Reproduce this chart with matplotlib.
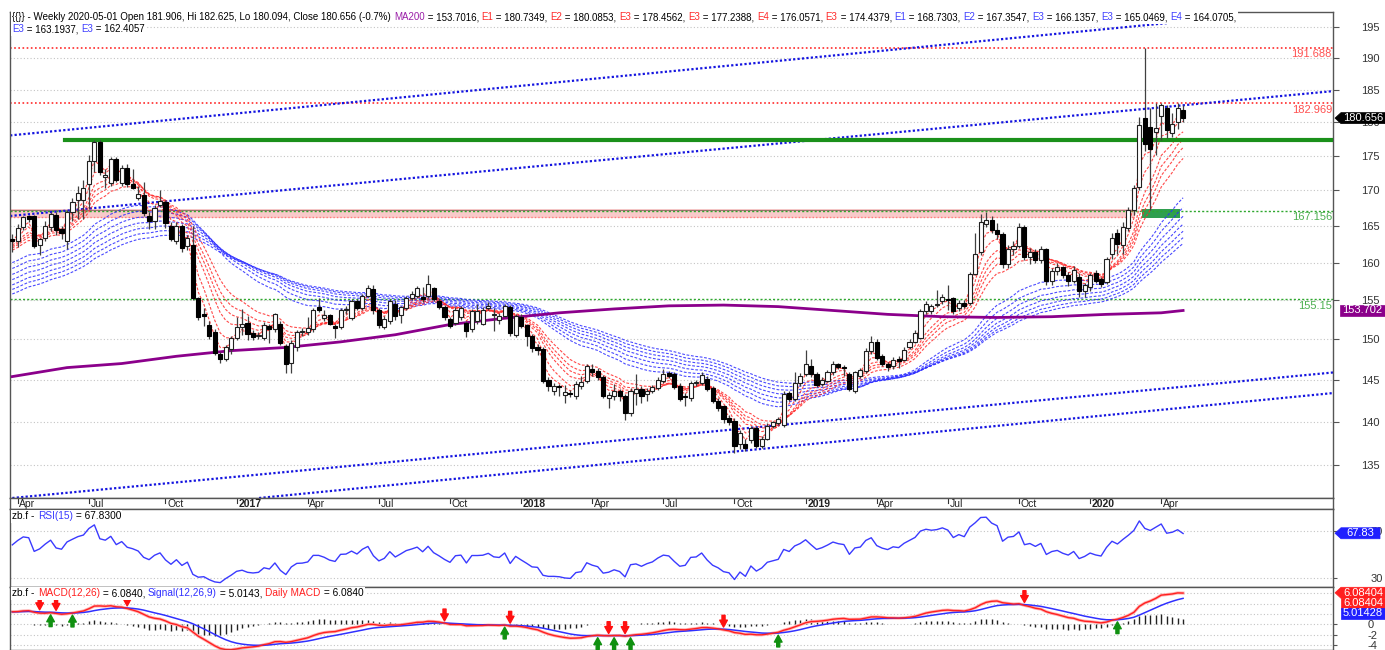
### weekly zb.f chart with guppy ribbons, RSI and MACD panels

import numpy as np
import pandas as pd
import matplotlib
matplotlib.use('Agg')
import matplotlib.pyplot as plt
from matplotlib.ticker import FixedLocator, NullLocator, FuncFormatter
from matplotlib.patches import Polygon
from matplotlib.offsetbox import HPacker, TextArea, AnchoredOffsetbox

plt.rcParams['font.family'] = ['Liberation Sans', 'DejaVu Sans']

### canvas size in pixels
W, H = 1385, 650

### weekly bars (friday), first bar 2016-03-25, last bar 2020-05-01
first_week = '2016-03-25'
opens = [163.2, 162.9, 164.8, 166.4, 166.4, 162.4, 163.3, 164.8, 166.6, 164.6,
         163.0, 167.0, 168.6, 168.6, 171.0, 174.3, 177.0, 172.0, 171.1, 174.6,
         171.1, 173.2, 171.0, 168.9, 169.4, 166.4, 165.7, 167.9, 168.4, 165.0,
         162.9, 165.0, 162.3, 162.4, 155.3, 153.3, 151.9, 150.9, 148.2, 147.6,
         148.8, 150.2, 151.6, 152.1, 150.8, 150.4, 150.2, 151.7, 151.3, 152.0,
         149.2, 147.1, 149.0, 150.9, 150.9, 151.3, 154.1, 152.7, 153.1, 151.7,
         151.6, 153.8, 152.7, 154.9, 154.0, 155.6, 156.5, 153.8, 151.6, 152.4,
         154.6, 153.1, 154.0, 155.3, 155.6, 155.4, 155.6, 156.6, 154.9, 154.1,
         152.6, 152.1, 152.8, 152.1, 151.3, 152.3, 152.0, 154.0, 153.1, 152.5,
         153.0, 154.1, 150.6, 152.9, 151.8, 150.4, 149.1, 148.8, 145.0, 143.7,
         144.3, 143.2, 143.4, 143.0, 144.3, 144.9, 146.3, 146.1, 145.3, 142.8,
         143.1, 143.6, 143.0, 141.0, 143.4, 143.9, 143.3, 143.7, 144.0, 144.9,
         145.8, 145.7, 144.3, 143.1, 142.8, 144.6, 144.6, 145.1, 144.0, 142.5,
         141.8, 140.4, 140.1, 137.4, 137.4, 137.8, 139.3, 137.2, 138.0, 139.5,
         139.8, 139.6, 143.4, 142.7, 144.6, 145.7, 146.7, 145.7, 144.5, 144.9,
         145.9, 146.9, 146.6, 145.7, 143.7, 145.5, 146.1, 148.6, 149.7, 147.9,
         147.0, 146.7, 147.6, 147.5, 149.0, 149.7, 150.2, 153.6, 153.6, 154.4,
         154.9, 155.2, 155.3, 154.0, 154.7, 154.7, 158.5, 161.4, 165.3, 165.8,
         164.5, 163.9, 159.8, 161.9, 162.3, 164.9, 160.8, 161.4, 160.4, 161.8,
         157.6, 158.9, 159.4, 158.3, 157.6, 158.1, 156.2, 156.7, 158.6, 157.8,
         157.4, 161.2, 164.0, 162.4, 164.7, 167.3, 170.5, 180.6, 179.3, 178.6,
         181.0, 182.2, 178.4, 180.0, 181.906]
highs = [163.9, 165.3, 166.4, 166.6, 166.6, 163.4, 165.7, 166.9, 166.9, 165.0,
         167.2, 168.9, 170.7, 171.5, 175.1, 177.3, 177.4, 173.1, 174.8, 174.8,
         173.7, 173.8, 173.1, 170.7, 171.2, 167.0, 167.9, 170.0, 168.6, 165.5,
         165.6, 165.3, 163.8, 165.0, 155.5, 154.0, 152.3, 151.3, 148.4, 149.3,
         150.5, 152.8, 153.9, 153.0, 151.2, 151.0, 152.2, 152.0, 153.4, 152.3,
         149.4, 149.9, 151.2, 151.5, 152.8, 154.0, 155.3, 153.8, 153.3, 152.0,
         154.0, 154.3, 155.2, 155.2, 155.9, 157.0, 157.0, 154.0, 153.0, 155.2,
         155.0, 154.3, 155.6, 156.2, 156.9, 156.7, 158.3, 156.8, 155.3, 154.4,
         152.9, 154.1, 154.3, 152.4, 153.9, 154.6, 154.2, 154.8, 154.0, 153.4,
         154.6, 154.4, 153.3, 153.2, 152.0, 150.7, 149.4, 149.0, 145.3, 144.6,
         144.5, 144.4, 143.8, 144.8, 145.5, 147.0, 146.9, 146.4, 145.6, 143.5,
         144.5, 143.9, 143.3, 144.0, 145.7, 144.2, 144.0, 144.4, 145.3, 146.3,
         146.1, 146.0, 144.6, 143.4, 144.9, 145.0, 146.0, 145.5, 144.2, 142.8,
         142.0, 140.8, 140.4, 139.0, 138.0, 139.5, 139.5, 138.3, 139.8, 140.1,
         140.6, 143.6, 143.7, 145.9, 145.8, 148.7, 147.6, 146.0, 145.3, 146.2,
         147.3, 147.1, 146.8, 146.0, 146.1, 146.5, 148.9, 150.5, 150.0, 148.2,
         147.2, 147.8, 147.9, 149.0, 150.0, 151.2, 153.9, 154.9, 154.6, 156.4,
         155.8, 157.0, 155.5, 155.0, 155.0, 158.8, 164.0, 166.7, 166.9, 166.4,
         165.4, 164.2, 162.4, 163.0, 165.4, 165.2, 162.0, 161.9, 162.3, 162.0,
         159.3, 160.0, 159.6, 158.8, 159.5, 158.6, 157.3, 158.6, 159.0, 158.1,
         160.8, 164.0, 164.6, 165.5, 167.6, 170.8, 180.8, 191.688, 182.2, 182.9,
         182.9, 182.6, 181.5, 182.969, 182.625]
lows = [161.5, 162.1, 164.4, 165.5, 162.0, 161.1, 163.0, 164.3, 163.8, 163.2,
        161.9, 165.7, 166.0, 166.0, 167.4, 172.6, 172.2, 170.3, 170.6, 171.2,
        170.6, 170.5, 170.2, 168.6, 166.4, 164.6, 164.6, 167.6, 164.7, 163.0,
        162.5, 161.5, 161.7, 155.0, 152.5, 151.7, 150.0, 148.0, 147.1, 147.3,
        148.2, 149.9, 150.6, 149.9, 149.9, 150.0, 149.9, 149.6, 151.0, 149.3,
        145.8, 145.8, 148.6, 150.5, 150.6, 151.0, 153.5, 152.3, 151.8, 150.2,
        151.3, 153.3, 152.5, 153.8, 153.8, 155.4, 153.3, 151.5, 151.3, 152.0,
        152.5, 152.1, 153.8, 155.0, 155.3, 154.8, 155.3, 154.9, 153.9, 152.5,
        151.4, 151.9, 152.5, 150.3, 151.0, 152.0, 151.8, 153.7, 151.1, 152.0,
        152.8, 150.5, 150.3, 151.4, 149.2, 148.4, 148.1, 144.6, 143.6, 143.2,
        143.1, 142.2, 142.9, 142.7, 143.9, 144.6, 145.5, 145.0, 142.8, 141.6,
        142.6, 142.4, 140.2, 140.7, 142.0, 142.2, 142.4, 143.4, 143.8, 144.6,
        145.2, 143.9, 142.5, 141.9, 142.4, 144.3, 144.4, 143.7, 142.2, 141.3,
        139.8, 139.6, 136.4, 136.8, 136.6, 137.5, 136.9, 136.9, 137.8, 139.3,
        139.6, 139.4, 142.5, 142.4, 144.3, 145.5, 145.4, 144.1, 144.2, 144.7,
        145.6, 146.3, 145.5, 143.7, 143.4, 145.2, 145.8, 148.2, 147.4, 146.7,
        146.1, 146.3, 146.4, 147.3, 148.8, 149.5, 150.0, 153.3, 153.3, 154.2,
        154.6, 153.8, 153.2, 153.6, 154.0, 154.4, 158.3, 161.0, 164.8, 164.0,
        163.2, 159.3, 159.3, 161.0, 162.0, 160.3, 159.8, 159.9, 160.0, 157.0,
        157.0, 158.3, 157.9, 156.9, 157.3, 155.5, 155.5, 156.2, 157.3, 156.7,
        157.1, 160.5, 161.2, 161.2, 164.3, 166.5, 170.0, 175.8, 167.2, 175.1,
        177.3, 177.6, 177.8, 179.0, 180.094]
closes = [163.0, 164.7, 166.2, 166.0, 162.3, 163.2, 165.0, 166.7, 164.4, 164.0,
          167.0, 168.3, 169.6, 170.4, 174.3, 177.0, 172.7, 172.2, 174.5, 171.5,
          173.2, 171.0, 170.4, 169.5, 166.8, 165.7, 167.5, 168.5, 165.4, 163.2,
          165.0, 162.0, 163.3, 155.3, 152.8, 153.0, 150.4, 148.3, 147.6, 149.0,
          150.2, 151.6, 152.0, 150.7, 150.3, 150.5, 151.9, 151.3, 153.2, 149.5,
          147.0, 149.6, 150.9, 151.0, 151.4, 153.8, 153.8, 153.1, 152.0, 151.5,
          153.8, 153.9, 154.9, 154.0, 155.6, 156.6, 153.7, 151.8, 152.6, 154.9,
          153.0, 154.1, 155.3, 155.9, 156.6, 155.2, 157.2, 155.2, 154.1, 152.8,
          151.7, 153.8, 154.0, 151.1, 153.6, 153.6, 153.7, 154.3, 153.2, 153.0,
          154.3, 150.8, 153.0, 151.7, 150.4, 148.9, 148.7, 144.9, 144.3, 144.3,
          144.1, 143.5, 143.3, 144.5, 144.7, 146.7, 145.9, 145.4, 143.0, 143.2,
          143.7, 143.1, 141.0, 143.7, 143.9, 143.1, 143.7, 144.1, 145.0, 145.7,
          145.5, 144.1, 142.7, 142.9, 144.6, 144.7, 145.6, 143.9, 142.4, 141.6,
          140.3, 139.9, 137.2, 138.7, 136.9, 139.3, 137.2, 138.0, 139.5, 139.9,
          140.3, 143.3, 142.7, 144.6, 145.5, 147.0, 145.7, 144.4, 145.0, 145.9,
          147.0, 146.6, 146.4, 143.9, 145.9, 146.2, 148.6, 149.7, 147.7, 147.0,
          146.6, 147.5, 147.3, 148.7, 149.7, 150.8, 153.6, 154.5, 154.3, 154.6,
          155.4, 155.0, 153.6, 154.7, 154.3, 158.5, 161.2, 165.5, 165.8, 164.5,
          163.9, 159.8, 161.9, 162.3, 164.9, 160.8, 161.4, 160.4, 161.8, 157.6,
          158.9, 159.4, 158.3, 157.6, 159.0, 156.2, 157.0, 158.3, 157.6, 157.2,
          160.5, 163.4, 162.5, 164.8, 167.2, 170.4, 179.6, 176.8, 176.0, 179.1,
          182.7, 178.9, 179.8, 182.2, 180.656]

### 200 week moving average (bar index, value)
ma200_idx = [0, 10, 20, 30, 40, 50, 60, 70, 80, 90, 100, 110, 120, 130, 140,
             150, 160, 170, 180, 190, 200, 210, 214]
ma200_val = [145.4, 146.5, 147.0, 147.9, 148.6, 149.0, 149.7, 150.6, 151.9,
             152.7, 153.4, 153.9, 154.3, 154.4, 154.2, 153.7, 153.2, 152.9,
             152.8, 152.9, 153.2, 153.4, 153.70]

### guppy ribbons: periods and values at the first bar
red_periods = [3, 5, 8, 10, 12, 15]
red_start = [162.8, 162.5, 162.2, 162.0, 161.8, 161.5]
blue_periods = [30, 35, 40, 45, 50, 55, 60]
blue_start = [159.8, 159.0, 158.2, 157.5, 156.8, 156.2, 155.6]

### horizontal levels
res_levels = [191.688, 182.969]
sup_levels = [167.156, 155.15]
green_level = 177.4
band_low, band_high = 166.15, 167.35

### trendlines as (bar, price) end points
trend_lines = [((-0.4, 178.05), (212.6, 195.8)),
               ((-0.4, 166.4), (241.4, 184.8)),
               ((0.0, 131.3), (241.4, 145.9)),
               ((45.1, 131.3), (241.4, 143.4))]

### MACD cross arrows (bar index)
sell_arrows = [5, 8, 21, 79, 91, 109, 112, 130, 185]
buy_arrows = [7, 11, 90, 107, 110, 113, 140, 202]

### header texts
ohlc_text = "{{}} - Weekly 2020-05-01 Open 181.906, Hi 182.625, Lo 180.094, Close 180.656 (-0.7%) "
red_names = ['E1', 'E2', 'E3', 'E3', 'E4', 'E3']
red_vals = ['180.7349', '180.0853', '178.4562', '177.2388', '176.0571', '174.4379']
blue_names = ['E1', 'E2', 'E3', 'E3', 'E4', 'E3', 'E3']
blue_vals = ['168.7303', '167.3547', '166.1357', '165.0469', '164.0705', '163.1937', '162.4057']

RED = '#ff2a2a'
BLUE = '#2b2bff'
PURPLE = '#8b008b'
GREEN = '#2fa82f'


def ema(values, n, seed):
    a = 2.0 / (n + 1)
    out = np.empty(len(values))
    e = seed
    for t, v in enumerate(values):
        e = e + a * (v - e)
        out[t] = e
    return out


def rsi_wilder(values, n, g0, l0):
    out = np.empty(len(values))
    ag, al = g0, l0
    out[0] = 100 - 100 / (1 + ag / al)
    for t in range(1, len(values)):
        d = values[t] - values[t - 1]
        ag = (ag * (n - 1) + max(d, 0)) / n
        al = (al * (n - 1) + max(-d, 0)) / n
        out[t] = 100 - 100 / (1 + ag / al)
    return out


o = np.array(opens)
h = np.array(highs)
l = np.array(lows)
c = np.array(closes)
x = np.arange(len(c))
dates = pd.date_range(first_week, periods=len(c), freq='W-FRI')
xlim = (-0.42, 241.4)

fig = plt.figure(figsize=(W / 100, H / 100), dpi=100)


def panel(top, bottom):
    return fig.add_axes([10 / W, 1 - bottom / H, (1333 - 10) / W, (bottom - top) / H])


ax = panel(12, 498)
ax_d = panel(498, 509)
ax_r = panel(509, 587)
ax_m = panel(587, 650)

for a in (ax, ax_d, ax_r, ax_m):
    a.set_xlim(*xlim)
    a.set_xticks([])
    for s in a.spines.values():
        s.set_color('#555555')
        s.set_linewidth(1)

### ---------- main price panel ----------
ax.set_yscale('log')
ax.set_ylim(131.3, 197.5)
ax.yaxis.set_major_locator(FixedLocator(list(range(135, 200, 5))))
ax.yaxis.set_minor_locator(NullLocator())
ax.yaxis.set_major_formatter(FuncFormatter(lambda v, p: '%d' % v))
ax.yaxis.set_minor_formatter(FuncFormatter(lambda v, p: ''))
ax.yaxis.tick_right()
ax.tick_params(axis='y', which='both', length=4, pad=16, labelsize=8, labelcolor='#333333', color='#555555')
ax.grid(axis='y', color='#c4c4c4', ls=(0, (1, 2)), lw=0.8)

### pink band and green block
ax.fill_between([xlim[0], 205.3], band_low, band_high, color='#f9caca', lw=0, zorder=1)
ax.plot([xlim[0], 205.3], [band_low + 0.08] * 2, color='#ff7a7a', ls=(0, (1, 1.5)), lw=1, zorder=1.5)
ax.plot([xlim[0], 205.3], [band_high - 0.05] * 2, color='#a07070', lw=0.8, zorder=1.5)
ax.fill_between([206.5, 213.5], band_low, band_high, color='#2f9f4f', lw=0, zorder=1)

### levels
for lv in res_levels:
    ax.plot(xlim, [lv, lv], color=RED, ls=(0, (1, 1.5)), lw=1.2, zorder=2)
    ax.text(xlim[1] - 0.2, lv * 0.9985, '%g' % lv, color='#ff5050', size=8, ha='right', va='top', zorder=6)
for lv in sup_levels:
    ax.plot(xlim, [lv, lv], color=GREEN, ls=(0, (1.5, 1.5)), lw=1, zorder=2)
    ax.text(xlim[1] - 0.2, lv * 0.9985, '%g' % lv, color='#4caf50', size=8, ha='right', va='top', zorder=6)
ax.plot([9.7, xlim[1]], [green_level, green_level], color='#1a901a', lw=3, zorder=3)

### trendlines
for p0, p1 in trend_lines:
    ax.plot([p0[0], p1[0]], [p0[1], p1[1]], color='#1414e0', ls=(0, (1, 1)), lw=1.6, zorder=2)

### guppy ribbons
for n, s0 in zip(blue_periods, blue_start):
    ax.plot(x, ema(c, n, s0), color=BLUE, ls=(0, (2.5, 1.5)), lw=0.8, alpha=0.85, zorder=2)
for n, s0 in zip(red_periods, red_start):
    ax.plot(x, ema(c, n, s0), color=RED, ls=(0, (2.5, 1.5)), lw=0.8, alpha=0.85, zorder=2.2)

### MA200
ax.plot(ma200_idx, ma200_val, color=PURPLE, lw=2, zorder=3)

### candles
up = c >= o
body = np.maximum(np.abs(c - o), 0.12)
ax.vlines(x, l, h, color='#404040', lw=0.9, zorder=3.5)
ax.bar(x[up], body[up], bottom=np.minimum(o, c)[up], width=0.75, color='white',
       edgecolor='#202020', lw=0.8, zorder=4)
ax.bar(x[~up], body[~up], bottom=np.minimum(o, c)[~up], width=0.75, color='black',
       edgecolor='black', lw=0.8, zorder=4)


### header
def put_row(target, parts, x_px, y_px, size=7.0):
    areas = [TextArea(s, textprops=dict(color=col, size=size)) for s, col in parts]
    row = HPacker(children=areas, align='baseline', pad=0, sep=0)
    box = AnchoredOffsetbox(loc='upper left', child=row, pad=0.1, borderpad=0, frameon=True,
                            bbox_to_anchor=(x_px / W, 1 - y_px / H), bbox_transform=fig.transFigure)
    box.patch.set_facecolor('white')
    box.patch.set_edgecolor('none')
    box.set_zorder(7)
    target.add_artist(box)


line1 = [(ohlc_text, 'black'), ('MA200', '#9b1fa8'), (' = 153.7016, ', 'black')]
for nm, vl in zip(red_names, red_vals):
    line1 += [(nm, RED), (' = %s, ' % vl, 'black')]
for nm, vl in zip(blue_names[:5], blue_vals[:5]):
    line1 += [(nm, '#4040ff'), (' = %s, ' % vl, 'black')]
line1[-1] = (line1[-1][0].rstrip(), 'black')
line2 = [('E3', '#4040ff'), (' = %s, ' % blue_vals[5], 'black'), ('E3', '#4040ff'), (' = %s' % blue_vals[6], 'black')]
put_row(ax, line1, 11, 11)
put_row(ax, line2, 11, 23)

### ---------- date strip ----------
ax_d.set_ylim(0, 1)
ax_d.set_yticks([])
for i in range(1, len(dates)):
    if dates[i].month != dates[i - 1].month and dates[i].month in (1, 4, 7, 10):
        bold = dates[i].month == 1
        lab = str(dates[i].year) if bold else dates[i].strftime('%b')
        ax_d.plot([i, i], [0.55, 1], color='#333333', lw=0.8)
        ax_d.text(i + 0.3, 0.42, lab, ha='left', va='center', size=7.5,
                  fontweight='bold' if bold else 'normal', color='#222222')

### ---------- RSI ----------
rsi = rsi_wilder(c, 15, 0.72, 0.52)
ax_r.plot(x, rsi, color='#3a3aff', lw=1)
ax_r.set_ylim(22.7, 88.2)
ax_r.set_yticks([30, 70])
ax_r.yaxis.tick_right()
ax_r.tick_params(axis='y', length=3, pad=24, labelsize=8, labelcolor='#333333', color='#555555')
ax_r.grid(axis='y', color='#c4c4c4', ls=(0, (1, 2)), lw=0.8)
put_row(ax_r, [('zb.f - ', 'black'), ('RSI(15)', '#3a3aff'), (' = 67.8300', 'black')], 11, 510, 7.3)

### ---------- MACD ----------
e12 = ema(c, 12, 161.8)
e26 = ema(c, 26, 159.3)
macd = e12 - e26
signal = ema(macd, 9, 2.4)
ax_m.vlines(x, 0, macd - signal, color='#222222', lw=1)
ax_m.plot(x, macd, color='#ffb0b0', lw=2.2)
ax_m.plot(x, signal, color='#3030ff', lw=1.1)
ax_m.plot(x, macd, color='#ff2020', lw=1)
ax_m.set_ylim(-4.97, 7.2)
ax_m.set_yticks([-4, -2, 0])
ax_m.yaxis.set_major_formatter(FuncFormatter(lambda v, p: '%d' % v))
ax_m.yaxis.tick_right()
ax_m.tick_params(axis='y', length=3, pad=22, labelsize=8, labelcolor='#333333', color='#555555')
for gv in [-4, -2, 0, 2, 4, 6]:
    ax_m.axhline(gv, color='#c4c4c4', ls=(0, (1, 2)), lw=0.8, zorder=0.5)
for i in sell_arrows:
    ax_m.annotate('', xy=(i, max(macd[i], signal[i])), xytext=(0, 10), textcoords='offset points',
                  arrowprops=dict(arrowstyle='simple,head_length=0.5,head_width=0.55,tail_width=0.22',
                                  fc='#ff1010', ec='#ff1010', shrinkA=0, shrinkB=1.5))
for i in buy_arrows:
    ax_m.annotate('', xy=(i, min(macd[i], signal[i])), xytext=(0, -10), textcoords='offset points',
                  arrowprops=dict(arrowstyle='simple,head_length=0.5,head_width=0.55,tail_width=0.22',
                                  fc='#109010', ec='#109010', shrinkA=0, shrinkB=1.5))
put_row(ax_m, [('zb.f - ', 'black'), ('MACD(12,26)', '#ff2020'), (' = 6.0840, ', 'black'),
               ('Signal(12,26,9)', '#3030ff'), (' = 5.0143, ', 'black'),
               ('Daily MACD', '#ff2020'), (' = 6.0840', 'black')], 11, 587, 7.3)


### ---------- value tags on the right ----------
def tag(axis, value, label, fc, x0=1335, x1=1385, tip=True, dy=0.0):
    y = H - axis.transData.transform((0, value))[1] + dy
    hh = 5.5
    if tip:
        pts = [(x0, y), (x0 + 6, y - hh), (x1, y - hh), (x1, y + hh), (x0 + 6, y + hh)]
    else:
        pts = [(x0, y - hh), (x1, y - hh), (x1, y + hh), (x0, y + hh)]
    fig.add_artist(Polygon([(px / W, 1 - py / H) for px, py in pts], closed=True,
                           transform=fig.transFigure, fc=fc, ec=fc, lw=0.5, zorder=5))
    cx = (x0 + (6 if tip else 0) + x1) / 2
    fig.text(cx / W, 1 - y / H, label, color='white', size=8, ha='center', va='center', zorder=6)


tag(ax, 180.656, '180.656', 'black')
tag(ax, 153.702, '153.702', PURPLE, x0=1340, tip=False)
tag(ax_r, 67.83, '67.83', '#2020ff', x1=1380)
tag(ax_m, 6.08404, '6.08404', '#ff2020')
tag(ax_m, 6.08404, '6.08404', '#ff2020', x0=1341, tip=False, dy=10.3)
tag(ax_m, 6.08404, '5.01428', '#2020ff', x0=1341, tip=False, dy=20.6)

fig.savefig('out.png', dpi=100, facecolor='white')
